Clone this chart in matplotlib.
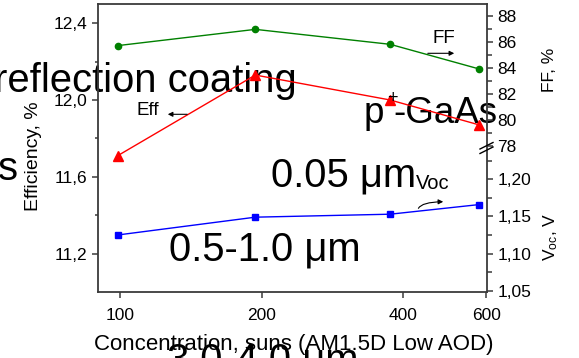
import matplotlib
matplotlib.use("Agg")
import matplotlib.pyplot as plt
from matplotlib.ticker import FixedLocator, FixedFormatter, NullLocator

# Measured cell data vs. solar concentration
conc = [99, 194, 375, 580]              # suns
eff = [11.71, 12.13, 12.00, 11.87]      # efficiency, %
ff = [85.7, 86.95, 85.8, 83.9]          # fill factor, %
voc = [1.125, 1.149, 1.153, 1.166]      # open-circuit voltage, V

x_ticks = [100, 200, 400, 600]
x_labels = ["100", "200", "400", "600"]
eff_ticks = [11.2, 11.6, 12.0, 12.4]
eff_labels = ["11,2", "11,6", "12,0", "12,4"]
ff_ticks = [78, 80, 82, 84, 86, 88]
ff_labels = ["78", "80", "82", "84", "86", "88"]
voc_ticks = [1.05, 1.10, 1.15, 1.20]
voc_labels = ["1,05", "1,10", "1,15", "1,20"]

plt.rcParams["font.family"] = ["Liberation Sans", "DejaVu Sans"]
plt.rcParams["mathtext.default"] = "regular"

W, H = 579, 358
DPI = 100
fig = plt.figure(figsize=(W / DPI, H / DPI), dpi=DPI)


def fx(x):
    return x / W


def fy(y):
    return 1 - y / H


def box(x0, y0, x1, y1):
    return [fx(x0), fy(y1), (x1 - x0) / W, (y1 - y0) / H]


SPINE = "#3a3a3a"
TICK_FS = 12.5
XLIM = (89.9, 602)

# main axes: efficiency on the left
ax = fig.add_axes(box(98, 4, 487, 292))
ax.set_xscale("log")
ax.set_xlim(*XLIM)
ax.set_ylim(11.0, 12.5)
for s in ax.spines.values():
    s.set_color(SPINE)
    s.set_linewidth(1.3)
ax.xaxis.set_major_locator(FixedLocator(x_ticks))
ax.xaxis.set_major_formatter(FixedFormatter(x_labels))
ax.xaxis.set_minor_locator(NullLocator())
ax.yaxis.set_major_locator(FixedLocator(eff_ticks))
ax.yaxis.set_major_formatter(FixedFormatter(eff_labels))
ax.yaxis.set_minor_locator(FixedLocator([11.4, 11.8, 12.2]))
ax.tick_params(axis="both", which="major", direction="out", length=4.5,
               width=1.1, color=SPINE, labelsize=TICK_FS)
ax.tick_params(axis="y", which="minor", direction="out", length=2.2,
               width=1.1, color=SPINE)
ax.tick_params(axis="x", pad=7)
ax.tick_params(axis="y", pad=3)
ax.tick_params(top=False, right=False)
ax.plot(conc, eff, color="#ff0000", lw=1.0, marker="^", ms=6.5, zorder=3)

# fill factor (upper) and open-circuit voltage (lower) on a split right scale
ax_ff = fig.add_axes(box(98, 4, 487, 152))
ax_voc = fig.add_axes(box(98, 156, 487, 292))
for a in (ax_ff, ax_voc):
    a.set_xscale("log")
    a.set_xlim(*XLIM)
    a.patch.set_visible(False)
    for s in a.spines.values():
        s.set_visible(False)
    a.xaxis.set_visible(False)
    a.yaxis.tick_right()
    a.tick_params(axis="y", which="both", direction="out", width=1.1,
                  color=SPINE, labelsize=TICK_FS, pad=3)
    a.tick_params(axis="y", which="major", length=4.5)
    a.tick_params(axis="y", which="minor", length=3.5)

ax_ff.set_ylim(77.52, 88.9)
ax_ff.yaxis.set_major_locator(FixedLocator(ff_ticks))
ax_ff.yaxis.set_major_formatter(FixedFormatter(ff_labels))
ax_ff.yaxis.set_minor_locator(FixedLocator([79, 81, 83, 85, 87]))
ax_ff.plot(conc, ff, color="#008000", lw=1.0, marker="o", ms=4.5)

ax_voc.set_ylim(1.0482, 1.2314)
ax_voc.yaxis.set_major_locator(FixedLocator(voc_ticks))
ax_voc.yaxis.set_major_formatter(FixedFormatter(voc_labels))
ax_voc.yaxis.set_minor_locator(FixedLocator([1.075, 1.125, 1.175, 1.225]))
ax_voc.plot(conc, voc, color="#0000ff", lw=1.0, marker="s", ms=4.2)

# break mark on the right axis
for dy in (0, 4.5):
    fig.add_artist(plt.Line2D([fx(480), fx(493)], [fy(149 + dy), fy(142.5 + dy)],
                              color="black", lw=1.0))

# axis titles
fig.text(fx(33.5), fy(156.5), "Efficiency, %", rotation=90, ha="center",
         va="center", fontsize=14)
fig.text(fx(549), fy(70), "FF, %", rotation=90, ha="center", va="center",
         fontsize=12.5)
fig.text(fx(551), fy(236.7), "V$_{oc}$, V", rotation=90, ha="center",
         va="center", fontsize=12.5)
fig.text(fx(294), fy(350), "Concentration, suns (AM1.5D Low AOD)",
         ha="center", va="baseline", fontsize=16)

# series labels with arrows
fig.text(fx(136.5), fy(115), "Eff", fontsize=13.5, va="baseline")
fig.add_artist(matplotlib.patches.FancyArrowPatch(
    (fx(190), fy(114.3)), (fx(165), fy(114.3)), transform=fig.transFigure,
    arrowstyle="-|>", mutation_scale=7, lw=0.8, color="black"))
fig.text(fx(432.5), fy(43.3), "FF", fontsize=13.5, va="baseline")
fig.add_artist(matplotlib.patches.FancyArrowPatch(
    (fx(425), fy(53.3)), (fx(457), fy(53.3)), transform=fig.transFigure,
    arrowstyle="-|>", mutation_scale=7, lw=0.8, color="black"))
fig.add_artist(matplotlib.patches.FancyArrowPatch(
    (fx(417.7), fy(211)), (fx(446), fy(201.7)), transform=fig.transFigure,
    arrowstyle="-|>", mutation_scale=7, lw=0.8, color="black",
    connectionstyle="angle3,angleA=90,angleB=0"))

# large layer captions
BIG = 28.8
captions = [
    (297, 92, "reflection coating", "right", BIG),
    (18, 180, "s", "right", BIG),
    (271, 187, "0.05 \u03bcm", "left", BIG),
    (169, 260, "0.5-1.0 \u03bcm", "left", BIG),
    (167, 371, "3.0-4.0 \u03bcm", "left", BIG),
    (364, 123, "p", "left", 26.5),
    (393, 123, "-GaAs", "left", 26.5),
]
for x, y, s, ha, fs in captions:
    ax.text(fx(x), fy(y), s, transform=fig.transFigure, fontsize=fs,
            ha=ha, va="baseline", zorder=1, clip_on=False)
ax.text(fx(392), fy(103), "+", transform=fig.transFigure, fontsize=13,
        ha="center", va="baseline", zorder=5, clip_on=False)
fig.text(fx(416), fy(189), "Voc", fontsize=14.5, va="baseline")

fig.savefig("out.png", dpi=DPI)
